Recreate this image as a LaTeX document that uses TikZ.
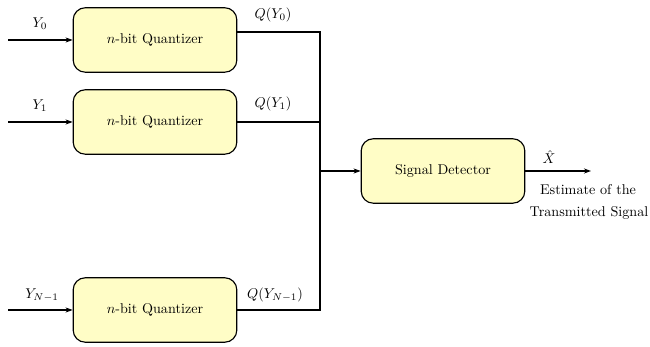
\documentclass[tikz,border=0pt]{standalone}
\usetikzlibrary{arrows.meta}
\definecolor{boxfill}{HTML}{FFFDC6}
\tikzset{
  block/.style={draw=black, fill=boxfill, line width=0.8pt, rounded corners=8.5pt,
    minimum width=115.5pt, minimum height=45.5pt, inner sep=0pt, font=\normalsize},
  wire/.style={line width=0.8pt},
  sig/.style={wire, -{Stealth[length=5pt,width=3.6pt]}},
  lbl/.style={inner sep=0pt}
}
\begin{document}
\begin{tikzpicture}[x=0.706pt, y=-0.706pt]
\useasboundingbox (0,0) rectangle (650,347);

% quantizer blocks
\node[block] (q0) at (155,40)  {$n$-bit Quantizer};
\node[block] (q1) at (155,122) {$n$-bit Quantizer};
\node[block] (qn) at (155,310) {$n$-bit Quantizer};
% detector
\node[block] (det) at (443,171) {Signal Detector};

% inputs
\coordinate (i0) at (8,40);
\coordinate (i1) at (8,122);
\coordinate (in) at (8,310);
\draw[sig] (i0) -- (q0.west);
\draw[sig] (i1) -- (q1.west);
\draw[sig] (in) -- (qn.west);
\node[lbl] (ly0) at (40,24)  {$Y_0$};
\node[lbl] (ly1) at (40,106) {$Y_1$};
\node[lbl] (lyn) at (42,295) {$Y_{N-1}$};

% bus collecting the quantized outputs
\coordinate (b0) at (320,32);
\coordinate (b1) at (320,122);
\coordinate (bn) at (320,310);
\coordinate (bm) at (320,171);
\draw[wire] (q0.east |- b0) -- (b0) -- (bn) -- (qn.east);
\draw[wire] (q1.east) -- (b1);
\node[lbl] (lq0) at (273,15)  {$Q(Y_0)$};
\node[lbl] (lq1) at (273,104) {$Q(Y_1)$};
\node[lbl] (lqn) at (275,295) {$Q(Y_{N-1})$};

% into the detector
\draw[sig] (bm) -- (det.west);

% estimate output
\coordinate (xo) at (591,171);
\draw[sig] (det.east) -- (xo);
\node[lbl] (lx) at (549,157) {$\hat{X}$};
\node[lbl] (le1) at (588,190) {Estimate of the};
\node[lbl] (le2) at (589,213) {Transmitted Signal};
\end{tikzpicture}
\end{document}
